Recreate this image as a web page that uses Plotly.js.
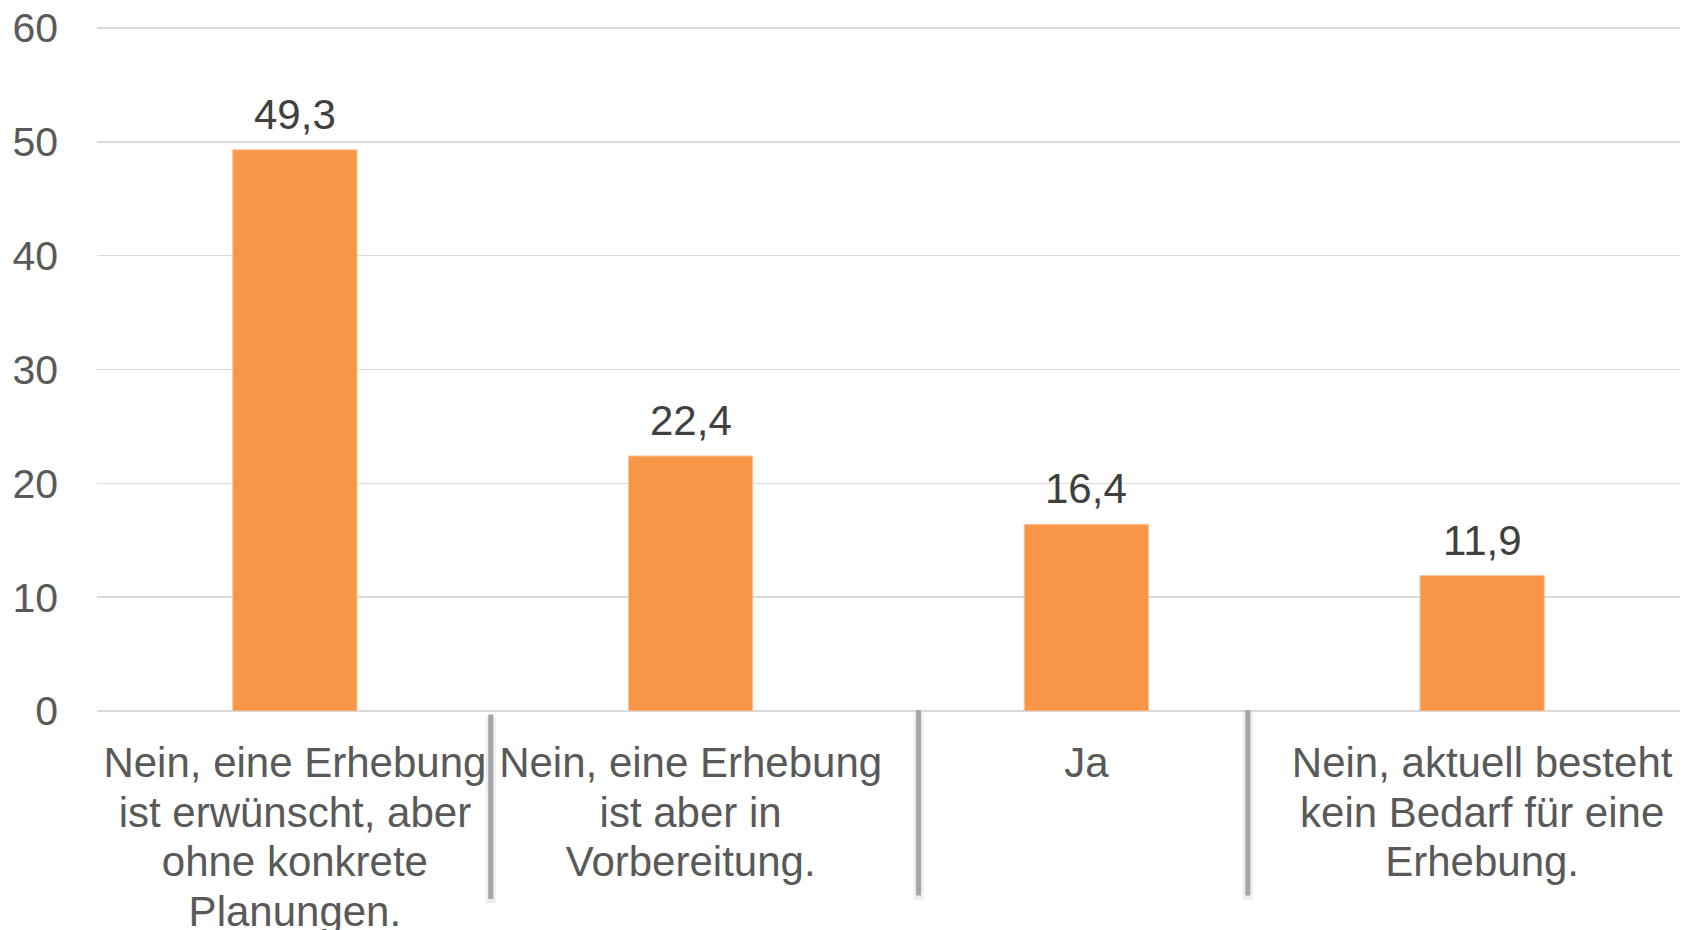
<!DOCTYPE html>
<html>
<head>
<meta charset="utf-8">
<script src="https://cdn.plot.ly/plotly-3.0.1.min.js"></script>
<style>
  html, body { margin: 0; padding: 0; background: #ffffff; }
  #chart { width: 1696px; height: 930px; }
</style>
</head>
<body>
<div id="chart"></div>
<script>
// ---- data ----
const categories = [
  "Nein, eine Erhebung<br>ist erwünscht, aber<br>ohne konkrete<br>Planungen.",
  "Nein, eine Erhebung<br>ist aber in<br>Vorbereitung.",
  "Ja",
  "Nein, aktuell besteht<br>kein Bedarf für eine<br>Erhebung."
];
const values = [49.3, 22.4, 16.4, 11.9];
const yTicks = [0, 10, 20, 30, 40, 50, 60];
// divider positions between the category labels (category units)
const dividerX = [0.495, 1.576, 2.408];
const dividerTop = [-0.005, 0.0015, 0.0015];
const dividerBottom = [-0.274, -0.269, -0.269];

const font = "Liberation Sans, Arial, sans-serif";

const trace = {
  type: "bar",
  x: [0, 1, 2, 3],
  y: values,
  marker: { color: "#F79646", line: { color: "#FBC49A", width: 1 } },
  hoverinfo: "skip"
};

const annotations = values.map((v, i) => ({
  x: i, y: v, xref: "x", yref: "y",
  text: v.toFixed(1).replace(".", ","),
  showarrow: false, yanchor: "bottom", yshift: 10,
  font: { family: font, size: 42, color: "#404040" }
}));

const shapes = [];
dividerX.forEach((xv, i) => {
  shapes.push({
    type: "line", xref: "x", yref: "paper",
    x0: xv, x1: xv, y0: dividerTop[i] - 0.004, y1: dividerBottom[i] - 0.006,
    line: { color: "rgba(0,0,0,0.07)", width: 10 }, layer: "below"
  });
  shapes.push({
    type: "line", xref: "x", yref: "paper",
    x0: xv, x1: xv, y0: dividerTop[i], y1: dividerBottom[i],
    line: { color: "#A6A6A6", width: 5 }
  });
});

const layout = {
  width: 1696, height: 930,
  margin: { l: 97, r: 16, t: 25, b: 219 },
  paper_bgcolor: "#ffffff", plot_bgcolor: "#ffffff",
  showlegend: false,
  bargap: 0.686,
  font: { family: font, color: "#595959" },
  xaxis: {
    tickmode: "array",
    tickvals: [0, 1, 2, 3],
    ticktext: categories,
    range: [-0.5, 3.5],
    showgrid: false, zeroline: false, showline: false,
    ticks: "",
    ticklabelstandoff: 23,
    tickfont: { family: font, size: 42, color: "#595959" }
  },
  yaxis: {
    range: [0, 60.264],
    tickmode: "array",
    tickvals: yTicks,
    ticktext: yTicks.map(String),
    showgrid: true, gridcolor: "#D9D9D9", gridwidth: 1.5,
    zeroline: true, zerolinecolor: "#D9D9D9", zerolinewidth: 1.5,
    showline: false, ticks: "",
    ticklabelstandoff: 38,
    tickfont: { family: font, size: 41, color: "#595959" }
  },
  annotations: annotations,
  shapes: shapes
};

Plotly.newPlot("chart", [trace], layout, { displayModeBar: false, staticPlot: true }).then(() => {
  // tighter line spacing for the wrapped category labels (as in the original)
  document.querySelectorAll("#chart .xtick text tspan.line").forEach(t => {
    const dy = parseFloat(t.getAttribute("dy"));
    if (dy) t.setAttribute("dy", (dy * 1.18 / 1.3).toFixed(3) + "em");
  });
});
</script>
</body>
</html>
